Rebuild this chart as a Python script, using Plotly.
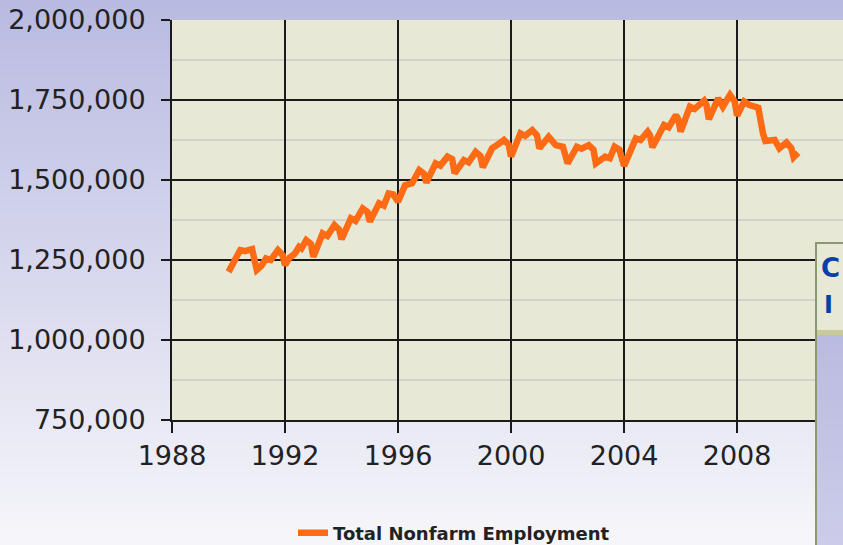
import plotly.graph_objects as go

# ---- data ----
months = [
    "1990-01", "1990-03", "1990-06", "1990-08", "1990-11",
    "1991-01", "1991-03", "1991-05", "1991-07", "1991-10", "1991-12",
    "1992-01", "1992-03", "1992-05", "1992-07", "1992-08", "1992-10", "1992-12",
    "1993-01", "1993-03", "1993-05", "1993-07", "1993-10", "1993-12",
    "1994-01", "1994-05", "1994-07", "1994-10", "1994-12",
    "1995-01", "1995-05", "1995-07", "1995-09", "1995-11",
    "1996-01", "1996-04", "1996-07", "1996-10", "1996-12",
    "1997-01", "1997-05", "1997-07", "1997-10", "1997-12",
    "1998-01", "1998-05", "1998-07", "1998-10", "1998-12",
    "1999-01", "1999-05", "1999-07", "1999-10", "1999-12",
    "2000-01", "2000-05", "2000-07", "2000-10", "2000-12",
    "2001-01", "2001-05", "2001-08", "2001-11",
    "2002-01", "2002-05", "2002-07", "2002-10", "2002-12",
    "2003-01", "2003-05", "2003-07", "2003-09", "2003-11",
    "2004-01", "2004-06", "2004-08", "2004-11", "2004-12",
    "2005-01", "2005-06", "2005-08", "2005-11", "2005-12",
    "2006-01", "2006-05", "2006-07", "2006-11", "2006-12",
    "2007-01", "2007-05", "2007-07", "2007-10", "2007-12",
    "2008-01", "2008-04", "2008-06", "2008-09", "2008-10", "2008-12",
    "2009-01", "2009-05", "2009-07", "2009-10", "2009-12",
    "2010-01", "2010-03",
]
employment = [
    1213000, 1240000, 1281000, 1278000, 1284000,
    1219000, 1232000, 1255000, 1250000, 1281000, 1265000,
    1234000, 1258000, 1268000, 1291000, 1286000, 1312000, 1300000,
    1260000, 1295000, 1333000, 1325000, 1359000, 1345000,
    1315000, 1380000, 1372000, 1411000, 1400000,
    1370000, 1427000, 1420000, 1458000, 1455000,
    1432000, 1484000, 1490000, 1531000, 1520000,
    1492000, 1552000, 1545000, 1573000, 1565000,
    1521000, 1562000, 1555000, 1588000, 1575000,
    1540000, 1599000, 1609000, 1625000, 1610000,
    1573000, 1646000, 1638000, 1656000, 1640000,
    1599000, 1635000, 1609000, 1604000,
    1552000, 1604000, 1598000, 1609000, 1595000,
    1552000, 1573000, 1568000, 1604000, 1595000,
    1544000, 1630000, 1625000, 1651000, 1640000,
    1602000, 1672000, 1665000, 1703000, 1690000,
    1651000, 1729000, 1722000, 1748000, 1735000,
    1690000, 1755000, 1729000, 1766000, 1745000,
    1701000, 1745000, 1735000, 1729000, 1726000, 1645000,
    1622000, 1625000, 1599000, 1617000, 1600000,
    1571000, 1585000,
]
series_name = "Total Nonfarm Employment"
y_ticks = [750000, 1000000, 1250000, 1500000, 1750000, 2000000]
panel_texts = ["C", "I"]

# ---- figure geometry ----
W, H = 843, 545
L, T, B = 172, 20, 125
R = 0
PW, PH = W - L - R, H - T - B


def px_x(px):
    return (px - L) / PW


def px_y(py):
    return (H - B - py) / PH


fig = go.Figure()
fig.add_trace(go.Scatter(
    x=months, y=employment, mode="lines", name=series_name,
    line=dict(color="#ff6a14", width=6.5),
))

shapes = []
# background vertical gradient (lavender -> near white)
top_c = (185, 186, 225)
bot_c = (246, 246, 250)
nb = 64
for i in range(nb):
    f = i / (nb - 1)
    c = tuple(round(top_c[k] + (bot_c[k] - top_c[k]) * f) for k in range(3))
    y0 = i * H / nb
    y1 = (i + 1) * H / nb + 1
    shapes.append(dict(type="rect", xref="paper", yref="paper",
                       x0=px_x(-5), x1=px_x(W + 5), y0=px_y(y1), y1=px_y(y0),
                       fillcolor="rgb(%d,%d,%d)" % c, line=dict(width=0),
                       layer="below"))
# plot area fill
shapes.append(dict(type="rect", xref="x domain", yref="y domain",
                   x0=0, x1=1, y0=0, y1=1, fillcolor="#e7e9d6",
                   line=dict(width=0), layer="below"))

# overlay panel at the right edge
shapes.append(dict(type="rect", xref="paper", yref="paper",
                   x0=px_x(816), x1=px_x(W + 10), y0=px_y(330), y1=px_y(243),
                   fillcolor="#e7e9d6", line=dict(width=0), layer="above"))
shapes.append(dict(type="rect", xref="paper", yref="paper",
                   x0=px_x(816), x1=px_x(W + 10), y0=px_y(335), y1=px_y(330),
                   fillcolor="#c9c99a", line=dict(width=0), layer="above"))
pt = (186, 187, 224)
pb = (204, 204, 234)
npb = 20
for i in range(npb):
    f = i / (npb - 1)
    c = tuple(round(pt[k] + (pb[k] - pt[k]) * f) for k in range(3))
    y0 = 335 + i * (H - 335) / npb
    y1 = 335 + (i + 1) * (H - 335) / npb + 1
    shapes.append(dict(type="rect", xref="paper", yref="paper",
                       x0=px_x(816), x1=px_x(W + 10), y0=px_y(y1), y1=px_y(y0),
                       fillcolor="rgb(%d,%d,%d)" % c, line=dict(width=0),
                       layer="above"))
shapes.append(dict(type="rect", xref="paper", yref="paper",
                   x0=px_x(816), x1=px_x(W + 10), y0=px_y(H + 10), y1=px_y(243),
                   fillcolor="rgba(0,0,0,0)", line=dict(color="#8a9a70", width=2),
                   layer="above"))

annotations = [
    dict(text="<b>%s</b>" % panel_texts[0], xref="paper", yref="paper",
         x=px_x(819), y=px_y(268), xanchor="left", yanchor="middle",
         showarrow=False, font=dict(family="DejaVu Sans", size=26, color="#0b3ea8")),
    dict(text="<b>%s</b>" % panel_texts[1], xref="paper", yref="paper",
         x=px_x(822), y=px_y(305), xanchor="left", yanchor="middle",
         showarrow=False, font=dict(family="DejaVu Sans", size=24, color="#0b3ea8")),
]

fig.update_layout(
    width=W, height=H,
    margin=dict(l=L, r=R, t=T, b=B, pad=0),
    paper_bgcolor="rgba(0,0,0,0)",
    plot_bgcolor="rgba(0,0,0,0)",
    template="none",
    font=dict(family="DejaVu Sans", color="#222222"),
    shapes=shapes,
    annotations=annotations,
    showlegend=True,
    legend=dict(orientation="h", xref="container", yref="container",
                x=293 / W, y=(H - 533) / H, xanchor="left",
                yanchor="middle", bgcolor="rgba(0,0,0,0)",
                font=dict(family="DejaVu Sans", size=18, color="#222222",
                          weight="bold"),
                itemwidth=30),
    xaxis=dict(
        type="date", range=["1988-01-01", "2011-10-01"],
        tick0="1988-01-01", dtick="M48", tickformat="%Y",
        showgrid=True, gridcolor="#1a1a1a", gridwidth=2,
        showline=True, linecolor="#1a1a1a", linewidth=2,
        ticks="outside", ticklen=11, tickwidth=2, tickcolor="#1a1a1a",
        tickfont=dict(size=27, color="#222222"),
        zeroline=False, automargin=False, fixedrange=True,
    ),
    yaxis=dict(
        range=[750000, 2000000], tickvals=y_ticks, tickformat=",d",
        showgrid=True, gridcolor="#1a1a1a", gridwidth=2,
        minor=dict(dtick=125000, tick0=750000, showgrid=True,
                   gridcolor="#d2d2cc", gridwidth=2, ticks=""),
        showline=True, linecolor="#1a1a1a", linewidth=2,
        ticks="outside", ticklen=9, tickwidth=2, tickcolor="#1a1a1a",
        tickfont=dict(size=27, color="#222222"),
        ticklabelstandoff=10,
        zeroline=False, automargin=False, fixedrange=True,
    ),
)

fig.write_html(
    "out.html",
    config=dict(displayModeBar=False),
    post_script="document.body.style.margin='0';document.body.style.overflow='hidden';",
)
